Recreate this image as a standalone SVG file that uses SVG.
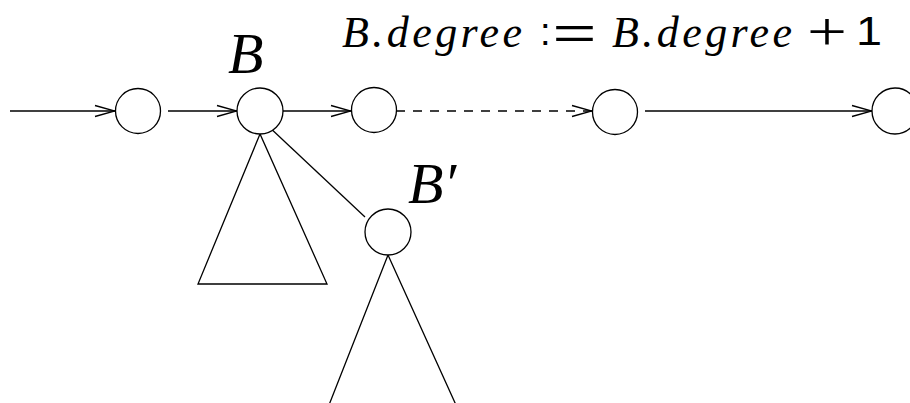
<svg xmlns="http://www.w3.org/2000/svg" width="910" height="403" viewBox="0 0 910 403">
<style>
  .node { fill: #ffffff; stroke: #000000; stroke-width: 1.3; }
  .edge { fill: none; stroke: #000000; stroke-width: 1.3; }
  .dash { stroke-dasharray: 9 8; }
  text { fill: #000000; }
  .mi { font-family: "Liberation Serif", "DejaVu Serif", "Times New Roman", serif; font-style: italic; }
  .rm { font-family: "Liberation Sans", "Noto Sans", Arial, sans-serif; }
  .rs { font-family: "Liberation Serif", "DejaVu Serif", "Times New Roman", serif; }
</style>
<defs>
  <marker id="arrow" markerUnits="userSpaceOnUse" markerWidth="24" markerHeight="16" viewBox="-22 -8 24 16" refX="0" refY="0" orient="auto">
    <path d="M -20 -5.5 L 0 0 L -20 5.5" fill="none" stroke="#000000" stroke-width="1.3"/>
  </marker>
</defs>
<rect x="0" y="0" width="910" height="403" fill="#ffffff"/>

<g id="connectors">
  <line class="edge" x1="10" y1="111" x2="115" y2="111" marker-end="url(#arrow)"/>
  <line class="edge" x1="168" y1="111" x2="237" y2="111" marker-end="url(#arrow)"/>
  <line class="edge" x1="283" y1="111" x2="351" y2="111" marker-end="url(#arrow)"/>
  <line class="edge dash" x1="396" y1="111" x2="592" y2="111" marker-end="url(#arrow)"/>
  <line class="edge" x1="645" y1="111" x2="872" y2="111" marker-end="url(#arrow)"/>
  <line class="edge" x1="267" y1="125" x2="365" y2="217"/>
  <path class="edge" d="M 260 134 L 198 284 L 327 284 Z"/>
  <path class="edge" d="M 329 405 L 388 255 L 456 405"/>
</g>

<g id="n1"><circle class="node" cx="138" cy="111" r="22.5"/></g>
<g id="nB"><circle class="node" cx="260" cy="111" r="23"/>
  <text class="mi" x="228" y="73" font-size="58">B</text></g>
<g id="n3"><circle class="node" cx="374" cy="110" r="22.5"/></g>
<g id="n4"><circle class="node" cx="615" cy="112" r="22.5"/></g>
<g id="n5"><circle class="node" cx="895" cy="111" r="23"/></g>
<g id="nBp"><circle class="node" cx="388" cy="232" r="23"/>
  <text class="mi" x="408" y="203" font-size="58">B′</text></g>

<g id="label">
  <text class="mi" x="342" y="47" font-size="44" textLength="180" lengthAdjust="spacing">B.degree</text>
  <text class="rm" x="540" y="45" font-size="38">:</text>
  <text class="rm" x="552.5" y="48.7" font-size="46" textLength="44" lengthAdjust="spacingAndGlyphs">=</text>
  <text class="mi" x="612" y="47" font-size="44" textLength="180" lengthAdjust="spacing">B.degree</text>
  <text class="rs" x="807" y="50" font-size="54" textLength="40" lengthAdjust="spacingAndGlyphs">+</text>
  <text class="rm" x="856" y="45" font-size="40" textLength="26" lengthAdjust="spacingAndGlyphs">1</text>
</g>
</svg>
